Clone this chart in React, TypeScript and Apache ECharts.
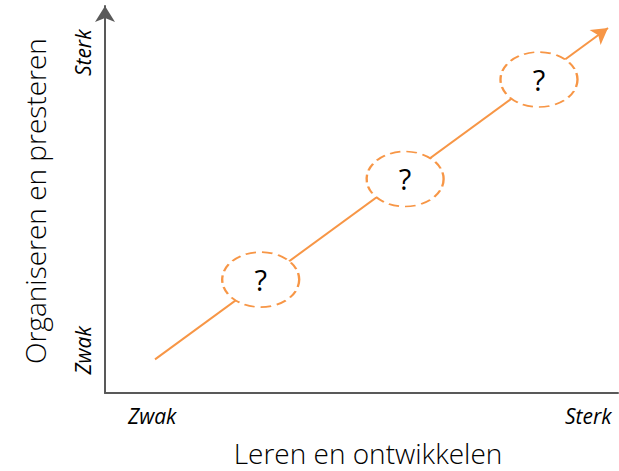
import React, { useEffect, useRef } from "react";
import * as echarts from "echarts";

const xTickValues = [9.2, 94.2];
const xTickLabels = ["Zwak", "Sterk"];
const yTickValues = [11.0, 87.9];
const yTickLabels = ["Zwak", "Sterk"];
const xTitle = "Leren en ontwikkelen";
const yTitle = "Organiseren en presteren";
const pathStart = [9.75, 8.7];
const pathEnd = [98.05, 94.3];
const steps = [
  [30.35, 29.3],
  [58.5, 55.3],
  [84.6, 81.0],
];
const stepLabel = "?";

const ORANGE = "#F79646";
const AXIS = "#595959";
const FONT = "'Open Sans', sans-serif";

export default function App() {
  const ref = useRef<HTMLDivElement>(null);
  useEffect(() => {
    document.body.style.margin = "0";
    const chart = echarts.init(ref.current!, undefined, { renderer: "svg" });
    chart.setOption({
      animation: false,
      grid: { left: 105, right: 1, top: 6, bottom: 78 },
      xAxis: {
        type: "value",
        min: 0,
        max: 100,
        axisLine: {
          show: true,
          lineStyle: { color: AXIS, width: 2 },
        },
        axisTick: { show: false },
        splitLine: { show: false },
        axisLabel: {
          customValues: xTickValues,
          formatter: (v: number) => xTickLabels[xTickValues.indexOf(v)] ?? "",
          fontFamily: FONT,
          fontStyle: "italic",
          fontSize: 21,
          color: "#000",
          margin: 12,
        },
      },
      yAxis: {
        type: "value",
        min: 0,
        max: 100,
        axisLine: {
          show: true,
          symbol: ["none", "arrow"],
          symbolSize: [15, 16],
          lineStyle: { color: AXIS, width: 2 },
        },
        axisTick: { show: false },
        splitLine: { show: false },
        axisLabel: {
          customValues: yTickValues,
          formatter: (v: number) => yTickLabels[yTickValues.indexOf(v)] ?? "",
          rotate: 90,
          fontFamily: FONT,
          fontStyle: "italic",
          fontSize: 21,
          color: "#000",
          margin: 12,
        },
      },
      graphic: [
        {
          type: "text",
          x: 368,
          y: 453,
          style: {
            text: xTitle,
            fontFamily: FONT,
            fontWeight: 300,
            fontSize: 28,
            fill: "#000",
            align: "center",
            verticalAlign: "middle",
          },
        },
        {
          type: "text",
          x: 35,
          y: 201,
          rotation: Math.PI / 2,
          style: {
            text: yTitle,
            fontFamily: FONT,
            fontWeight: 300,
            fontSize: 28,
            fill: "#000",
            align: "center",
            verticalAlign: "middle",
          },
        },
      ],
      series: [
        {
          type: "line",
          data: [],
          markLine: {
            silent: true,
            animation: false,
            symbol: ["none", "arrow"],
            symbolSize: [14, 16],
            label: { show: false },
            lineStyle: { type: "solid", color: ORANGE, width: 2 },
            data: [[{ coord: pathStart }, { coord: pathEnd }]],
          },
        },
        {
          type: "scatter",
          data: steps,
          symbol: "circle",
          symbolSize: [77, 55],
          itemStyle: {
            color: "#fff",
            opacity: 1,
            borderColor: ORANGE,
            borderWidth: 2,
            borderType: [9, 5],
          },
          label: {
            show: true,
            position: "inside",
            formatter: stepLabel,
            fontFamily: FONT,
            fontSize: 29,
            color: "#000",
          },
          z: 5,
        },
      ],
    });
    return () => chart.dispose();
  }, []);
  return <div ref={ref} style={{ width: 619, height: 471 }} />;
}
